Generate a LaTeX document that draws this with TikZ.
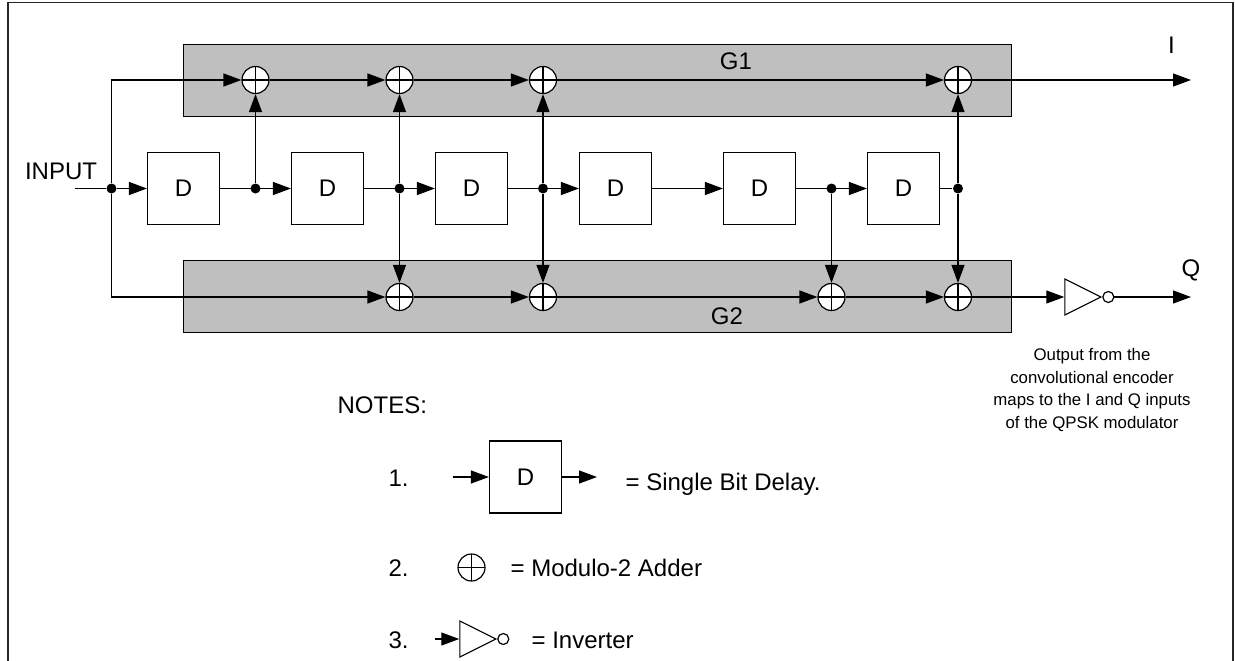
\documentclass[tikz,border=0pt]{standalone}
\usepackage{fontspec}
\setmainfont{Liberation Sans}
\usetikzlibrary{arrows.meta,shapes.geometric,positioning}
\definecolor{bandgray}{HTML}{BFBFBF}
\tikzset{
  delay/.style={rectangle, draw, fill=white, minimum size=72pt, inner sep=0pt, font=\labelfont},
  band/.style={rectangle, draw, fill=bandgray, minimum width=828pt, minimum height=72pt, inner sep=0pt},
  adder/.style={circle, draw, fill=white, minimum size=27pt, inner sep=0pt,
    path picture={
      \draw[line width=1.4pt] (path picture bounding box.north) -- (path picture bounding box.south);
      \draw[line width=1.4pt] (path picture bounding box.west) -- (path picture bounding box.east);
    }},
  junction/.style={circle, fill=black, minimum size=10pt, inner sep=0pt},
  inverter/.style={isosceles triangle, isosceles triangle apex angle=53, isosceles triangle stretches,
    draw, fill=white, minimum width=36pt, minimum height=36pt, inner sep=0pt},
  bubble/.style={circle, draw, fill=white, minimum size=11pt, inner sep=0pt},
  wire/.style={line width=1.2pt},
  signal/.style={wire, -{Triangle[length=18pt,width=13pt]}},
  caption/.style={inner sep=0pt, font=\labelfont},
  remark/.style={inner sep=0pt, align=center, font=\remarkfont}
}
\newcommand{\labelfont}{\fontsize{24}{28}\selectfont}
\newcommand{\remarkfont}{\fontsize{16.8}{22.7}\selectfont}

\begin{document}
\begin{tikzpicture}[x=1pt, y=-1pt, line width=1.2pt]
  \useasboundingbox (0,0) rectangle (1235,661);
  \draw[line width=1.6pt, black!85] (8,661) -- (8,2.5) -- (1233,2.5) -- (1233,661);

  \node[band] (g1) at (597.5,80.5) {};
  \node[band] (g2) at (597.5,296.75) {};

  \foreach \i/\x in {1/183.5,2/327.5,3/471.5,4/615.5,5/759.5,6/903.5} {
    \node[delay] (d\i) at (\x,188.5) {D};
  }
  \foreach \i/\x in {1/255.5,2/399.5,3/543,4/958} {
    \node[adder] (a\i) at (\x,80) {};
  }
  \foreach \i/\x in {1/399.5,2/543,3/831.5,4/958} {
    \node[adder] (b\i) at (\x,297) {};
  }
  \foreach \i/\x in {0/111.5,1/255.5,2/399.5,3/543,5/831.5,6/958} {
    \node[junction] (j\i) at (\x,188.5) {};
  }

  \coordinate (in) at (75,188.5);
  \coordinate (outi) at (1191,80);
  \coordinate (outq) at (1191,297);
  \node[inverter] (inv) at (1076,297) {};
  \node[bubble, right=0pt of inv.apex] (invout) {};

  % shift register
  \draw[wire] (in) -- (j0);
  \draw[signal] (j0) -- (d1);
  \draw[signal] (d1) -- (d2);
  \draw[signal] (d2) -- (d3);
  \draw[signal] (d3) -- (d4);
  \draw[signal] (d4) -- (d5);
  \draw[signal] (d5) -- (d6);
  \draw[wire] (d6) -- (j6);

  % upper row
  \draw[signal] (j0) |- (a1);
  \draw[signal] (a1) -- (a2);
  \draw[signal] (a2) -- (a3);
  \draw[signal] (a3) -- (a4);
  \draw[signal] (a4) -- (outi);
  \draw[signal] (j1) -- (a1);
  \draw[signal] (j2) -- (a2);
  \draw[signal] (j3) -- (a3);
  \draw[signal] (j6) -- (a4);

  % lower row
  \draw[signal] (j0) |- (b1);
  \draw[signal] (b1) -- (b2);
  \draw[signal] (b2) -- (b3);
  \draw[signal] (b3) -- (b4);
  \draw[signal] (b4) -- (inv.west);
  \draw[signal] (invout) -- (outq);
  \draw[signal] (j2) -- (b1);
  \draw[signal] (j3) -- (b2);
  \draw[signal] (j5) -- (b3);
  \draw[signal] (j6) -- (b4);

  \node[caption, anchor=base] (inputlabel) at (61,179) {INPUT};
  \node[caption, anchor=base] (ilabel) at (1171.5,54) {I};
  \node[caption, anchor=base] (qlabel) at (1191,276) {Q};
  \node[caption, anchor=base] (g1label) at (736,70) {G1};
  \node[caption, anchor=base] (g2label) at (727,324) {G2};
  \node[remark] (maplabel) at (1092,390) {Output from the\\convolutional encoder\\maps to the I and Q inputs\\of the QPSK modulator};

  % notes
  \node[caption, anchor=base west] (notes) at (337,413) {NOTES:};
  \foreach \i/\y in {1/486,2/576,3/648} {
    \node[caption, anchor=base west] (n\i) at (388,\y) {\i.};
  }
  \node[delay] (keyd) at (525.5,477) {D};
  \coordinate (keydin) at (453,477);
  \coordinate (keydout) at (597,477);
  \draw[signal] (keydin) -- (keyd);
  \draw[signal] (keyd) -- (keydout);
  \node[caption, anchor=base west] (keydtext) at (625,490.5) {= Single Bit Delay.};

  \node[adder, fill=none] (keya) at (471.5,567.5) {};
  \node[caption, anchor=base west] (keyatext) at (510,576) {= Modulo-2 Adder};

  \node[inverter] (keyi) at (471,639) {};
  \node[bubble, right=0pt of keyi.apex] (keyiout) {};
  \coordinate (keyiin) at (435,639);
  \draw[signal] (keyiin) -- (keyi.west);
  \node[caption, anchor=base west] (keyitext) at (531,648) {= Inverter};
\end{tikzpicture}
\end{document}
